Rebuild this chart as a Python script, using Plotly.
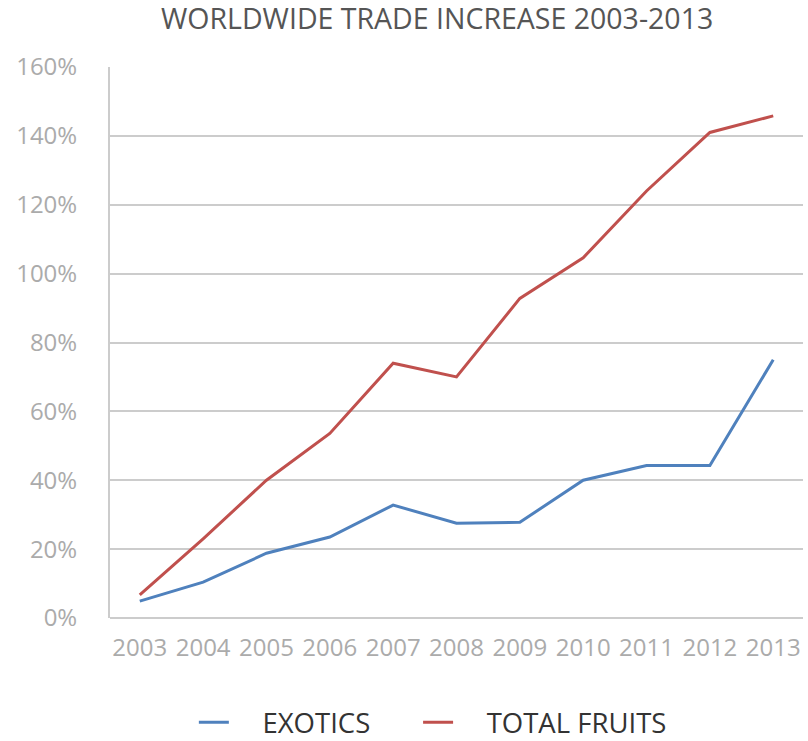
import plotly.graph_objects as go

years = ["2003", "2004", "2005", "2006", "2007", "2008", "2009", "2010", "2011", "2012", "2013"]
exotics = [4.9, 10.4, 18.8, 23.5, 32.8, 27.5, 27.8, 40.0, 44.3, 44.3, 75.0]
total_fruits = [6.7, 23.0, 40.0, 53.6, 74.0, 70.0, 92.8, 104.6, 124.0, 141.0, 145.8]
y_ticks = [0, 20, 40, 60, 80, 100, 120, 140, 160]
y_tick_labels = [f"{v}%" for v in y_ticks]

FONT = "Open Sans"
NB = "\u00a0"

fig = go.Figure()
fig.add_trace(go.Scatter(x=years, y=exotics, mode="lines", name=NB * 4 + "EXOTICS" + NB * 6,
                         line=dict(color="#4F81BD", width=3)))
fig.add_trace(go.Scatter(x=years, y=total_fruits, mode="lines", name=NB * 4 + "TOTAL FRUITS",
                         line=dict(color="#C0504D", width=3)))

fig.update_layout(
    width=808, height=741,
    margin=dict(l=110, r=5, t=67, b=123, autoexpand=False),
    paper_bgcolor="white", plot_bgcolor="white",
    font=dict(family=FONT),
    title=dict(text="WORLDWIDE TRADE INCREASE 2003-2013", x=0.541, xanchor="center",
               y=0.974, yanchor="middle",
               font=dict(family=FONT, size=28.5, color="#555555")),
    showlegend=True,
    legend=dict(orientation="h", x=0.121, xanchor="left", y=-0.145, yanchor="top",
                font=dict(family=FONT, size=27.5, color="#333333"),
                traceorder="normal"),
    xaxis=dict(type="category", range=[-0.47, 10.47], showgrid=False,
               showline=False, zeroline=False, ticks="", automargin=False,
               tickfont=dict(family=FONT, size=24, color="#ababab"),
               ticklabelstandoff=13),
    yaxis=dict(range=[0, 160], tickvals=y_ticks, ticktext=y_tick_labels,
               showgrid=True, gridcolor="#cccccc", gridwidth=2,
               showline=True, linecolor="#cccccc", linewidth=2,
               zeroline=True, zerolinecolor="#cccccc", zerolinewidth=2,
               ticks="", automargin=False,
               tickfont=dict(family=FONT, size=24, color="#ababab"),
               ticklabelstandoff=26),
)

fig.write_html("out.html", config={"displayModeBar": False},
               post_script="document.body.style.margin='0';")
